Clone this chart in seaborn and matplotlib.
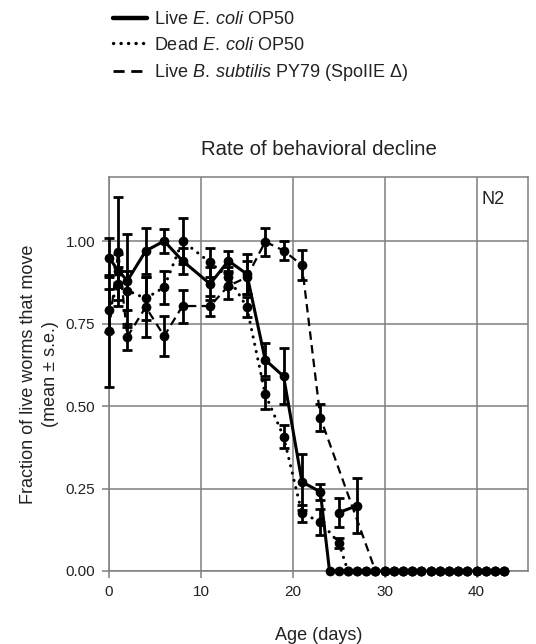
import matplotlib
matplotlib.use("Agg")
import matplotlib.pyplot as plt
import seaborn as sns
import pandas as pd
from matplotlib.lines import Line2D

# ---------------- data ----------------
live_days = [0, 1, 2, 4, 6, 8, 11, 13, 15, 17, 19, 21, 23,
             24, 25, 26, 27, 28, 29, 30, 31, 32, 33, 34, 35, 36, 37, 38, 39, 40, 41, 42, 43]
live_vals = [0.95, 0.91, 0.88, 0.97, 1.00, 0.94, 0.87, 0.94, 0.90, 0.64, 0.59, 0.27, 0.24,
             0, 0, 0, 0, 0, 0, 0, 0, 0, 0, 0, 0, 0, 0, 0, 0, 0, 0, 0, 0]
live_err = [0.06, 0.05, 0.14, 0.07, 0.035, 0.04, 0.05, 0.03, 0.06, 0.05, 0.085, 0.085, 0.025,
            0, 0, 0, 0, 0, 0, 0, 0, 0, 0, 0, 0, 0, 0, 0, 0, 0, 0, 0, 0]

live_late_days = [25, 27]
live_late_vals = [0.177, 0.198]
live_late_err = [0.045, 0.083]

dead_days = [0, 1, 2, 4, 6, 8, 11, 13, 15, 17, 19, 21, 23, 25,
             26, 27, 28, 29, 30, 31, 32, 33, 34, 35, 36, 37, 38, 39, 40, 41, 42, 43]
dead_vals = [0.79, 0.87, 0.85, 0.826, 0.86, 1.00, 0.935, 0.89, 0.80, 0.536, 0.407, 0.175, 0.149, 0.086,
             0, 0, 0, 0, 0, 0, 0, 0, 0, 0, 0, 0, 0, 0, 0, 0, 0, 0]
dead_err = [0.065, 0.05, 0.06, 0.065, 0.05, 0.07, 0.045, 0.03, 0.03, 0.045, 0.035, 0.025, 0.04, 0.015,
            0, 0, 0, 0, 0, 0, 0, 0, 0, 0, 0, 0, 0, 0, 0, 0, 0, 0]

bsub_days = [0, 1, 2, 4, 6, 8, 11, 13, 15, 17, 19, 21, 23,
             29, 30, 31, 32, 33, 34, 35, 36, 37, 38, 39, 40, 41, 42, 43]
bsub_vals = [0.727, 0.968, 0.71, 0.80, 0.712, 0.803, 0.803, 0.864, 0.89, 0.998, 0.971, 0.927, 0.465,
             0, 0, 0, 0, 0, 0, 0, 0, 0, 0, 0, 0, 0, 0, 0]
bsub_err = [0.17, 0.166, 0.04, 0.09, 0.06, 0.05, 0.03, 0.04, 0.05, 0.042, 0.03, 0.045, 0.042,
            0, 0, 0, 0, 0, 0, 0, 0, 0, 0, 0, 0, 0, 0, 0]

series_labels = [r"Live $\mathit{E.\:coli}$ OP50",
                 r"Dead $\mathit{E.\:coli}$ OP50",
                 r"Live $\mathit{B.\:subtilis}$ PY79 (SpoIIE Δ)"]
x_ticks = [0, 10, 20, 30, 40]
y_ticks = [0.00, 0.25, 0.50, 0.75, 1.00]

# ---------------- style ----------------
sns.set_theme(style="whitegrid")
plt.rcParams['font.family'] = ['Liberation Sans', 'DejaVu Sans']
plt.rcParams['mathtext.fontset'] = 'custom'
plt.rcParams['mathtext.rm'] = 'Liberation Sans'
plt.rcParams['mathtext.it'] = 'Liberation Sans:italic'

GRID = '#7f7f7f'
TXT = '#222222'
fig = plt.figure(figsize=(5.36, 6.44), dpi=100)
ax = fig.add_axes([109/536, 1 - 571/644, (528-109)/536, (571-177)/644])
ax.set_facecolor('white')

solid_ls = '-'
dot_ls = (0, (0.05, 2.4))
dash_ls = (0, (3.8, 2.4))

def draw(days, vals, err, ls, lw):
    df = pd.DataFrame({"day": days, "val": vals, "err": err})
    kw = dict(dash_capstyle='round') if ls == dot_ls else {}
    sns.lineplot(data=df, x="day", y="val", ax=ax, color='black', linewidth=lw,
                 linestyle=ls, marker='o', markersize=7, markeredgewidth=0,
                 markerfacecolor='black', errorbar=None, sort=False, clip_on=False,
                 zorder=4, **kw)
    m = df[df["err"] > 0]
    ax.errorbar(m["day"], m["val"], yerr=m["err"], fmt='none', ecolor='black',
                elinewidth=2.0, capsize=3.3, capthick=2.0, clip_on=False, zorder=5)

draw(bsub_days, bsub_vals, bsub_err, dash_ls, 1.6)
draw(dead_days, dead_vals, dead_err, dot_ls, 2.2)
draw(live_days, live_vals, live_err, solid_ls, 2.2)
draw(live_late_days, live_late_vals, live_late_err, solid_ls, 2.2)

ax.set_xlim(0, 45.6)
ax.set_ylim(0, 1.194)
ax.set_xticks(x_ticks)
ax.set_yticks(y_ticks)
ax.set_yticklabels([f"{v:.2f}" for v in y_ticks])
ax.grid(True, color=GRID, linewidth=1.1)
ax.set_axisbelow(True)
for s in ax.spines.values():
    s.set_color(GRID)
    s.set_linewidth(1.1)
    s.set_visible(True)
ax.tick_params(axis='both', which='major', length=5, width=1.1, color=GRID,
               direction='out', labelsize=11, pad=5, labelcolor=TXT)
ax.tick_params(axis='x', bottom=True)
ax.tick_params(axis='y', left=True)

ax.set_xlabel("Age (days)", fontsize=13, labelpad=20, color=TXT)
ax.set_ylabel("Fraction of live worms that move\n(mean ± s.e.)", fontsize=13,
              labelpad=5, color=TXT, linespacing=1.35)
ax.set_title("Rate of behavioral decline", fontsize=14.7, pad=16, color=TXT)
ax.text(0.945, 0.965, "N2", transform=ax.transAxes, ha='right', va='top',
        fontsize=13, color=TXT)

handles = [Line2D([], [], color='black', linewidth=3.2, linestyle='-'),
           Line2D([], [], color='black', linewidth=2.4, linestyle=(0, (0.05, 2.2)),
                  dash_capstyle='round'),
           Line2D([], [], color='black', linewidth=2.0, linestyle=(0, (4.0, 2.4)))]
leg = fig.legend(handles, series_labels, loc='upper left',
                 bbox_to_anchor=(113/536, 1 - 11/644), frameon=False, fontsize=13,
                 handlelength=1.9, handletextpad=0.35, labelspacing=0.48,
                 borderpad=0, borderaxespad=0)
for t in leg.get_texts():
    t.set_color(TXT)

fig.savefig("out.png", dpi=100)
